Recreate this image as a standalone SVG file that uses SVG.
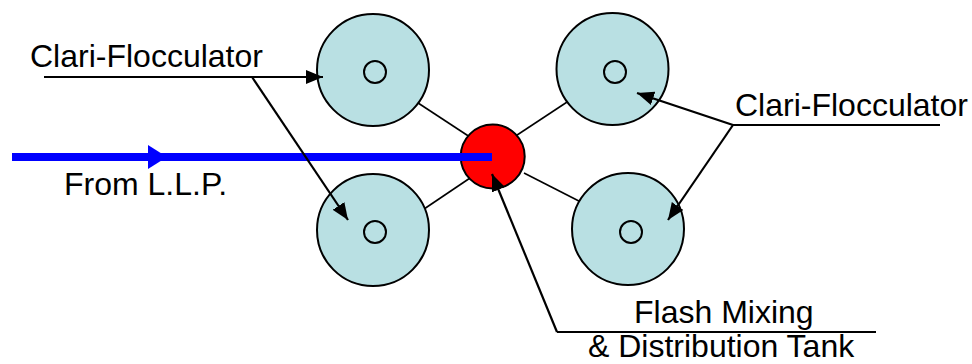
<svg xmlns="http://www.w3.org/2000/svg" width="972" height="364" viewBox="0 0 972 364">
<defs>
<marker id="ah" markerUnits="userSpaceOnUse" markerWidth="18" markerHeight="14" refX="17" refY="7" orient="auto"><path d="M0,0 L17,7 L0,14 Z" fill="#000"/></marker>
</defs>
<style>
.tank{fill:#B9E0E3;stroke:#000;stroke-width:2}
.core{fill:none;stroke:#000;stroke-width:2}
.spoke{stroke:#000;stroke-width:1.6;fill:none}
.call{stroke:#000;stroke-width:2.2;fill:none}
.lbl{font-family:"Liberation Sans",Arial,sans-serif;font-size:32px;fill:#000}
</style>
<g id="connectors">
<line class="spoke" x1="380" y1="78" x2="476" y2="141"/>
<line class="spoke" x1="605" y1="77" x2="508" y2="141"/>
<line class="spoke" x1="384" y1="236" x2="476" y2="174"/>
<line class="spoke" x1="524" y1="173" x2="620" y2="222"/>
</g>
<g id="tank-top-left"><circle class="tank" cx="373" cy="70" r="56"/><circle class="core" cx="375" cy="72" r="11"/></g>
<g id="tank-bottom-left"><circle class="tank" cx="373" cy="230" r="56"/><circle class="core" cx="375" cy="232" r="11"/></g>
<g id="tank-top-right"><circle class="tank" cx="612.5" cy="69" r="56"/><circle class="core" cx="615" cy="72" r="11"/></g>
<g id="tank-bottom-right"><circle class="tank" cx="628" cy="229" r="56"/><circle class="core" cx="631" cy="232" r="11"/></g>
<g id="flash-mix"><circle cx="492.7" cy="156.5" r="32" fill="#FF0000" stroke="#000" stroke-width="2"/></g>
<g id="inflow">
<line x1="12" y1="157" x2="492" y2="157" stroke="#0000FF" stroke-width="8"/>
<path d="M148,145 L167,157 L148,169 Z" fill="#0000FF"/>
<text class="lbl" x="64" y="195">From L.L.P.</text>
</g>
<g id="label-left">
<text class="lbl" x="30" y="67">Clari-Flocculator</text>
<line class="call" x1="44" y1="77" x2="323" y2="77" marker-end="url(#ah)"/>
<line class="call" x1="252" y1="77" x2="348" y2="220" marker-end="url(#ah)"/>
</g>
<g id="label-right">
<text class="lbl" x="735" y="116">Clari-Flocculator</text>
<line class="call" x1="733" y1="125" x2="940" y2="125"/>
<line class="call" x1="733" y1="125" x2="637" y2="93" marker-end="url(#ah)"/>
<line class="call" x1="733" y1="125" x2="668" y2="220" marker-end="url(#ah)"/>
</g>
<g id="label-bottom">
<text class="lbl" x="634" y="323">Flash Mixing</text>
<text class="lbl" x="588" y="357">&amp; Distribution Tank</text>
<line class="call" x1="557" y1="332" x2="876" y2="332"/>
<line class="call" x1="557" y1="332" x2="492" y2="174" marker-end="url(#ah)"/>
</g>
</svg>
